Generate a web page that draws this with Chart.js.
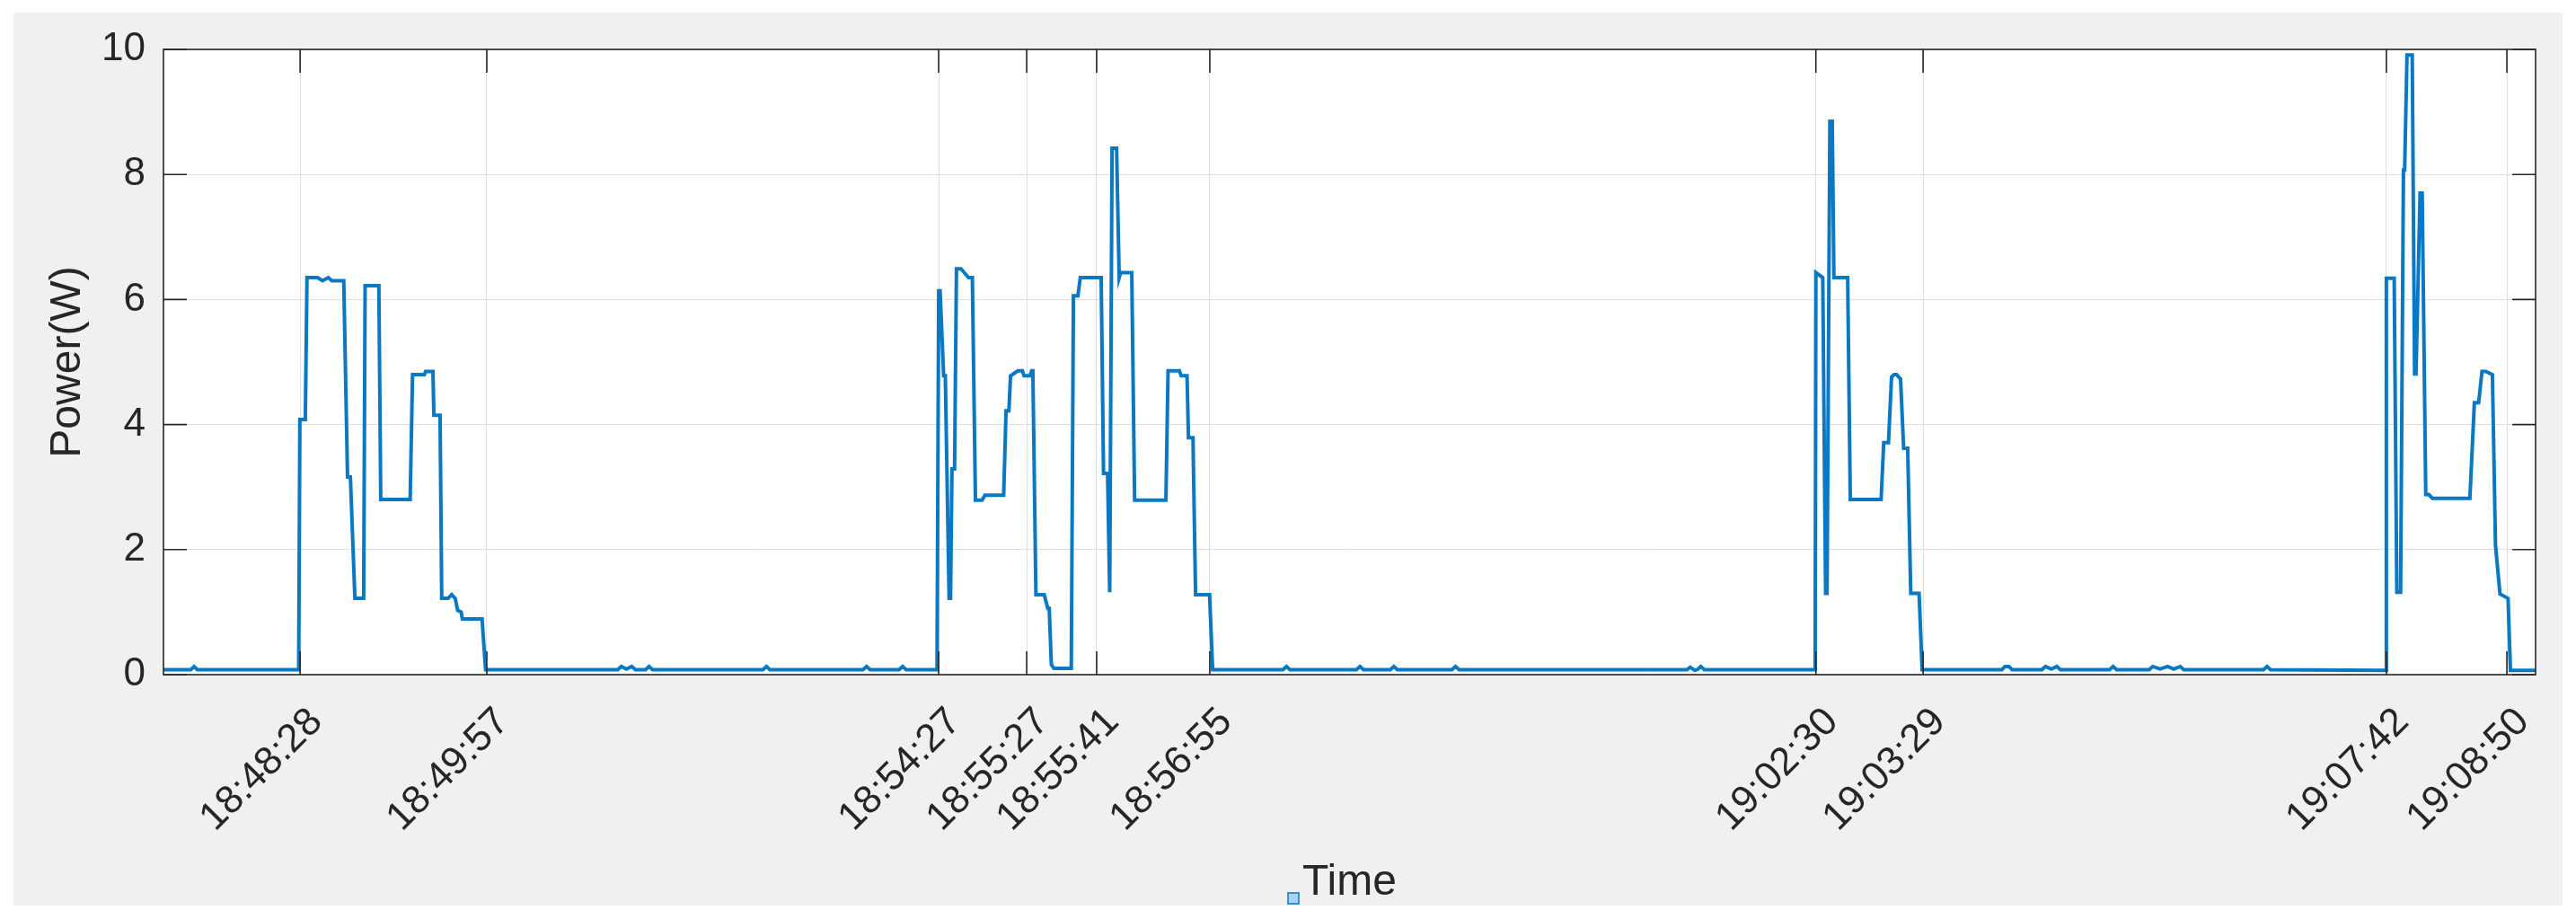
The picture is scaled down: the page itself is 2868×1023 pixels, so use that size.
<!DOCTYPE html>
<html>
<head>
<meta charset="utf-8">
<script src="https://cdn.jsdelivr.net/npm/chart.js@4.4.1/dist/chart.umd.min.js"></script>
<style>
  html, body { margin: 0; padding: 0; background: #ffffff; }
  canvas { display: block; }
</style>
</head>
<body>
<canvas id="myChart" width="2868" height="1023"></canvas>
<script>
// x is the sample number of the log (the axis is not linear in time),
// the tick labels are the clock times of a few of those samples
const tickIdx = [57.6, 136.3, 326.8, 363.9, 393.4, 441.1, 696.6, 741.8, 937.1, 987.9];
const tickTimes = ['18:48:28', '18:49:57', '18:54:27', '18:55:27', '18:55:41',
                   '18:56:55', '19:02:30', '19:03:29', '19:07:42', '19:08:50'];
const powerTicks = [0, 2, 4, 6, 8, 10];

// standby before the first burst
const idle0X = [0, 11.5, 12.9, 14.3, 57.0];
const idle0W = [0.08, 0.08, 0.13, 0.08, 0.08];

// first burst
const burst1X = [57.5, 59.8, 60.5, 65.0, 67.0, 69.5, 71.0, 76.0, 77.6, 78.8, 80.7, 84.4, 85.0, 90.8,
                 91.6, 104.0, 105.0, 110.0, 110.5, 113.6, 114.0, 116.6, 117.3, 120.0, 121.5, 123.0,
                 124.0, 125.5, 126.0, 134.3, 135.8];
const burst1W = [4.08, 4.08, 6.35, 6.35, 6.30, 6.35, 6.30, 6.30, 3.16, 3.16, 1.22, 1.22, 6.22, 6.22,
                 2.80, 2.80, 4.80, 4.80, 4.85, 4.85, 4.15, 4.15, 1.22, 1.22, 1.28, 1.22,
                 1.03, 1.00, 0.89, 0.89, 0.08];

const idle1X = [191.5, 193.0, 195.2, 197.4, 199.0, 203.2, 204.7, 206.2, 252.7, 254.2, 255.7,
                294.9, 296.4, 297.9, 310.1, 311.6, 313.1, 326.1];
const idle1W = [0.08, 0.13, 0.09, 0.13, 0.08, 0.08, 0.13, 0.08, 0.08, 0.13, 0.08,
                0.08, 0.13, 0.08, 0.08, 0.13, 0.08, 0.08];

// second and third bursts (back to back)
const burst2X = [326.8, 327.4, 328.9, 329.6, 331.2, 331.8, 332.4, 333.5, 334.3, 336.2, 339.4, 341.0,
                 342.3, 345.1, 346.3, 354.2, 355.2, 356.4, 357.1, 360.2, 362.1, 362.8, 365.3, 366.0,
                 366.5, 367.8, 371.3, 372.8, 373.4, 374.3, 375.4, 382.7, 383.6, 385.5, 386.5, 395.3,
                 396.3, 398.0, 398.9, 399.9, 401.8, 402.9, 403.5, 408.2, 409.4, 422.6, 423.5, 428.3,
                 429.0, 431.5, 432.1, 434.0, 435.1, 441.0, 442.3];
const burst2W = [6.14, 6.14, 4.78, 4.78, 1.22, 1.22, 3.29, 3.29, 6.49, 6.49, 6.35, 6.35,
                 2.79, 2.79, 2.87, 2.87, 4.22, 4.22, 4.78, 4.86, 4.86, 4.78, 4.78, 4.86,
                 4.86, 1.28, 1.28, 1.06, 1.06, 0.16, 0.10, 0.10, 6.06, 6.06, 6.35, 6.35,
                 3.22, 3.22, 1.32, 8.42, 8.42, 6.35, 6.43, 6.43, 2.79, 2.79, 4.86, 4.86,
                 4.78, 4.78, 3.79, 3.79, 1.28, 1.28, 0.08];

const idle2X = [471.9, 473.4, 474.9, 502.9, 504.4, 505.9, 517.2, 518.7, 520.2, 543.2, 544.7, 546.2,
                642.3, 643.6, 645.5, 646.6, 648.1, 649.6, 696.3];
const idle2W = [0.08, 0.13, 0.08, 0.08, 0.13, 0.08, 0.08, 0.13, 0.08, 0.08, 0.13, 0.08,
                0.08, 0.12, 0.07, 0.08, 0.13, 0.08, 0.08];

const burst3X = [696.6, 699.5, 700.7, 701.3, 702.5, 703.5, 704.2, 710.0, 711.1, 724.1, 725.2, 727.2,
                 728.5, 729.6, 730.6, 732.3, 733.6, 735.3, 736.6, 740.1, 741.4];
const burst3W = [6.43, 6.35, 1.30, 1.30, 8.85, 8.85, 6.35, 6.35, 2.80, 2.80, 3.71, 3.71,
                 4.76, 4.80, 4.80, 4.73, 3.62, 3.62, 1.30, 1.30, 0.08];

const idle3X = [775.0, 776.3, 778.0, 779.3, 791.9, 793.4, 795.8, 798.2, 799.7, 820.4, 821.9, 823.4,
                837.1, 838.6, 841.7, 844.9, 847.5, 850.2, 851.7, 885.3, 886.8, 888.3, 936.8];
const idle3W = [0.08, 0.13, 0.13, 0.08, 0.08, 0.13, 0.09, 0.13, 0.08, 0.08, 0.13, 0.08,
                0.08, 0.13, 0.09, 0.13, 0.09, 0.13, 0.08, 0.08, 0.13, 0.08, 0.07];

const burst4X = [937.1, 940.4, 941.5, 943.1, 944.3, 944.8, 945.8, 948.0, 949.0, 949.6, 951.3, 952.2,
                 953.7, 955.0, 956.5, 972.3, 974.2, 976.0, 977.4, 979.0, 981.8, 983.1, 985.0, 988.4,
                 989.4, 1000];
const burst4W = [6.34, 6.34, 1.32, 1.32, 8.07, 8.07, 9.91, 9.91, 4.81, 4.81, 7.70, 7.70,
                 2.88, 2.88, 2.82, 2.82, 4.35, 4.35, 4.85, 4.85, 4.80, 2.07, 1.29, 1.22,
                 0.07, 0.07];

var allX = [].concat(idle0X, burst1X, idle1X, burst2X, idle2X, burst3X, idle3X, burst4X);
var allW = [].concat(idle0W, burst1W, idle1W, burst2W, idle2W, burst3W, idle3W, burst4W);
var points = allX.map((x, i) => ({x: x, y: allW[i]}));

var FONT = "'Liberation Sans', Arial, Helvetica, sans-serif";
var INK = '#262626';

// matlab-like figure: grey frame, boxed axes, ticks pointing inwards
var matlabFrame = {
    id: 'matlabFrame',
    beforeDraw(chart) {
        const ctx = chart.ctx;
        const a = chart.chartArea;
        ctx.save();
        ctx.fillStyle = '#ffffff';
        ctx.fillRect(0, 0, chart.width, chart.height);
        ctx.fillStyle = '#f0f0f0';
        ctx.fillRect(15, 14, 2838, 994);
        ctx.fillStyle = '#ffffff';
        ctx.fillRect(a.left, a.top, a.right - a.left, a.bottom - a.top);
        ctx.restore();
    },
    afterDraw(chart) {
        const ctx = chart.ctx;
        const a = chart.chartArea;
        const xs = chart.scales.x;
        const ys = chart.scales.y;
        const len = 26;
        ctx.save();
        ctx.strokeStyle = INK;
        ctx.lineWidth = 1.6;
        ctx.beginPath();
        tickIdx.forEach(v => {
            const px = xs.getPixelForValue(v);
            ctx.moveTo(px, a.bottom); ctx.lineTo(px, a.bottom - len);
            ctx.moveTo(px, a.top); ctx.lineTo(px, a.top + len);
        });
        powerTicks.forEach(v => {
            const py = ys.getPixelForValue(v);
            ctx.moveTo(a.left, py); ctx.lineTo(a.left + len, py);
            ctx.moveTo(a.right, py); ctx.lineTo(a.right - len, py);
        });
        ctx.stroke();
        ctx.strokeRect(a.left, a.top, a.right - a.left, a.bottom - a.top);
        // little data-tip marker left of the axis label
        ctx.fillStyle = '#a9d5f3';
        ctx.strokeStyle = '#3a8fd0';
        ctx.lineWidth = 2;
        ctx.fillRect(1434, 994, 12, 12);
        ctx.strokeRect(1434, 994, 12, 12);
        ctx.restore();
    }
};

var ctx = document.getElementById('myChart').getContext('2d');
var chart = new Chart(ctx, {
    type: 'line',
    data: {
        datasets: [{
            label: 'Power',
            data: points,
            borderColor: '#0a78c2',
            backgroundColor: '#0a78c2',
            borderWidth: 4,
            pointRadius: 0,
            tension: 0,
            fill: false
        }]
    },
    options: {
        responsive: false,
        devicePixelRatio: 1,
        animation: false,
        layout: { padding: { top: 55, right: 45, bottom: 0, left: 0 } },
        plugins: {
            legend: { display: false },
            tooltip: { enabled: false }
        },
        scales: {
            x: {
                type: 'linear',
                min: 0,
                max: 1000,
                afterBuildTicks: s => { s.ticks = tickIdx.map(v => ({value: v})); },
                afterFit: s => { s.height = 272; },
                grid: { color: '#dfdfdf', lineWidth: 1, drawTicks: false },
                border: { display: false },
                ticks: {
                    autoSkip: false,
                    maxRotation: 45,
                    minRotation: 45,
                    padding: 27,
                    labelOffset: 18,
                    color: INK,
                    font: { family: FONT, size: 44 },
                    callback: (v, i) => tickTimes[i]
                },
                title: {
                    display: true,
                    text: 'Time',
                    color: INK,
                    font: { family: FONT, size: 48 },
                    padding: { top: 0, bottom: 11 }
                }
            },
            y: {
                min: 0,
                max: 10,
                afterBuildTicks: s => { s.ticks = powerTicks.map(v => ({value: v})); },
                afterFit: s => { s.width = 182; },
                grid: { color: '#dfdfdf', lineWidth: 1, drawTicks: false },
                border: { display: false },
                ticks: {
                    padding: 20,
                    color: INK,
                    font: { family: FONT, size: 44 }
                },
                title: {
                    display: true,
                    text: 'Power(W)',
                    color: INK,
                    font: { family: FONT, size: 48 },
                    padding: { top: 47, bottom: 0 }
                }
            }
        }
    },
    plugins: [matlabFrame]
});
</script>
</body>
</html>
